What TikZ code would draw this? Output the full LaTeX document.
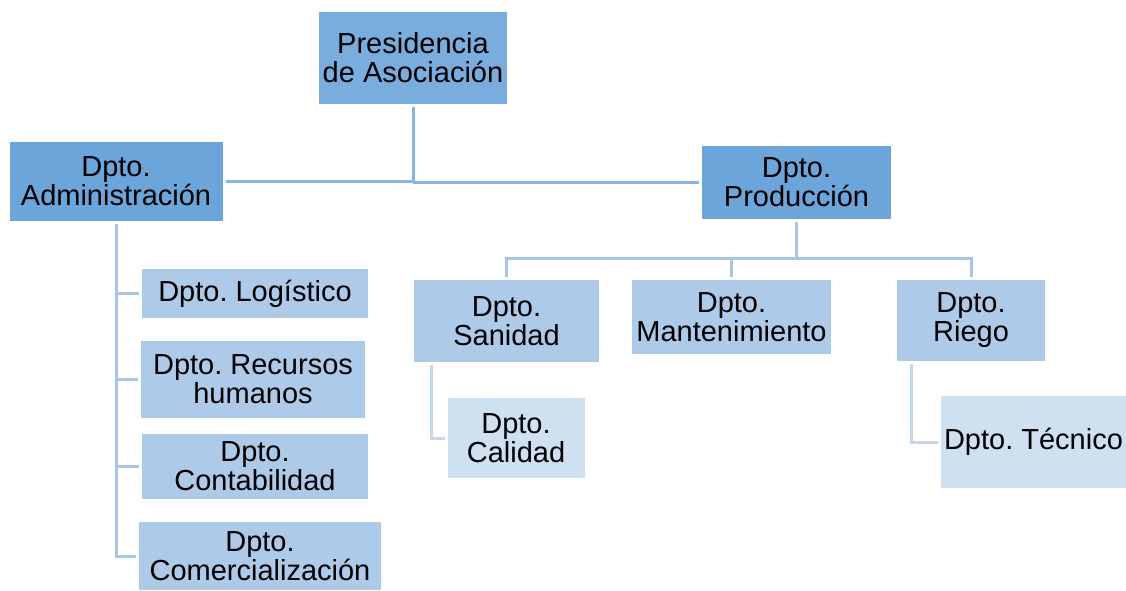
\documentclass[tikz,border=0pt]{standalone}
\usepackage{fontspec}
\setmainfont{Liberation Sans}
\frenchspacing
\definecolor{topblue}{HTML}{79ADDD}
\definecolor{midblue}{HTML}{6BA5D9}
\definecolor{lowblue}{HTML}{ADCBE9}
\definecolor{paleblue}{HTML}{CFE0F1}
\definecolor{linetop}{HTML}{8DB4E0}
\definecolor{linemid}{HTML}{A8C5E7}
\definecolor{linelow}{HTML}{C4D7EE}
\tikzset{
  box/.style={rectangle, inner sep=0pt, outer sep=3pt, align=center,
    font=\fontsize{29}{29}\selectfont},
  conn/.style={line width=3pt}
}
\begin{document}
\begin{tikzpicture}[x=1pt, y=-1pt]
      \useasboundingbox (0,0) rectangle (1126,590);
      \node (pres) at (413, 58) [box, fill=topblue, minimum width=188pt, minimum height=92pt] {Presidencia\\de Asociación};
      \node (adm) at (116, 181.5) [box, fill=midblue, minimum width=213pt, minimum height=79pt] {Dpto.\\Administración};
      \node (prod) at (796.5, 182.5) [box, fill=midblue, minimum width=189pt, minimum height=73pt] {Dpto.\\Producción};

      \node (log)  at (255, 293.5) [box, fill=lowblue, minimum width=226pt, minimum height=49pt] {Dpto. Logístico};
      \node (rrhh) at (253, 379.5) [box, fill=lowblue, minimum width=224pt, minimum height=77pt] {Dpto. Recursos\\humanos};
      \node (cont) at (255, 466.5) [box, fill=lowblue, minimum width=226pt, minimum height=65pt] {Dpto.\\Contabilidad};
      \node (com)  at (260, 556)   [box, fill=lowblue, minimum width=242pt, minimum height=68pt] {Dpto.\\Comercialización};

      \node (san)   at (506.5, 321) [box, fill=lowblue, minimum width=185pt, minimum height=82pt] {Dpto.\\Sanidad};
      \node (mant)  at (731.5, 317) [box, fill=lowblue, minimum width=199pt, minimum height=74pt] {Dpto.\\Mantenimiento};
      \node (riego) at (971, 320.5) [box, fill=lowblue, minimum width=148pt, minimum height=81pt] {Dpto.\\Riego};

      \node (cal) at (516, 438)    [box, fill=paleblue, minimum width=137pt, minimum height=80pt] {Dpto.\\Calidad};
      \node (tec) at (1033.5, 442) [box, fill=paleblue, minimum width=185pt, minimum height=92pt] {Dpto. Técnico};

      % top level
      \draw[conn, linetop] (adm.east) -- (adm.east -| pres.south) -- (pres.south);
      \draw[conn, linetop] (pres.south |- prod.west) -- (prod.west);

      % administracion
      \draw[conn, linemid] (adm.south) |- (com.west);
      \draw[conn, linemid] (adm.south |- log.west)  -- (log.west);
      \draw[conn, linemid] (adm.south |- rrhh.west) -- (rrhh.west);
      \draw[conn, linemid] (adm.south |- cont.west) -- (cont.west);

      % produccion
      \coordinate (pbus) at (796.5, 258);
      \draw[conn, linemid] (prod.south) -- (pbus);
      \draw[conn, linemid] (san.north) -- (san.north |- pbus) -- (riego.north |- pbus) -- (riego.north);
      \draw[conn, linemid] (mant.north) -- (mant.north |- pbus);

      \draw[conn, linelow] ([xshift=20pt]san.south west) |- (cal.west);
      \draw[conn, linelow] ([xshift=17pt]riego.south west) |- (tec.west);
\end{tikzpicture}
\end{document}
